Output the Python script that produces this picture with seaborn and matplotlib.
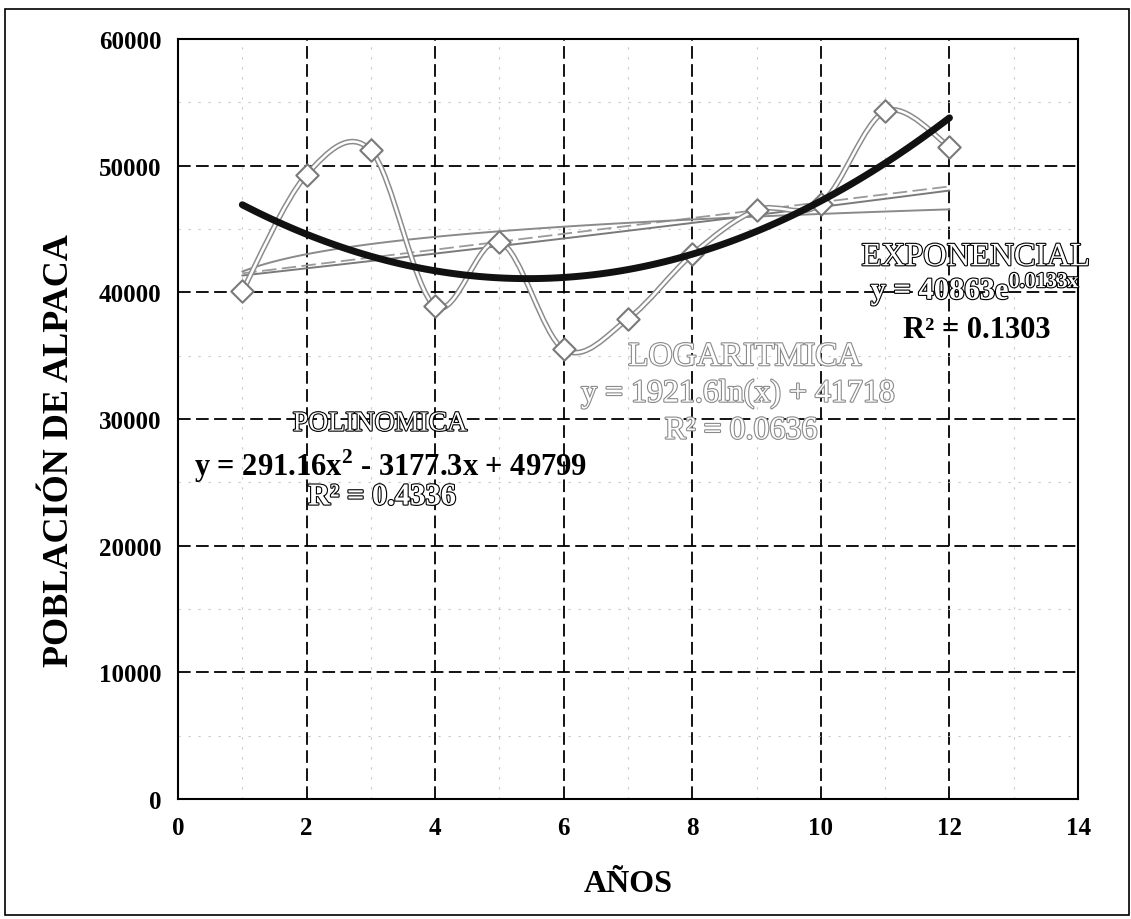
import numpy as np
import pandas as pd
import matplotlib
matplotlib.use('Agg')
import matplotlib.pyplot as plt
import matplotlib.patheffects as pe
from matplotlib.path import Path
from matplotlib.patches import PathPatch, Rectangle
import seaborn as sns

# data
years = [1, 2, 3, 4, 5, 6, 7, 8, 9, 10, 11, 12]
population = [40100, 49300, 51200, 38900, 44000, 35500, 37900, 43000, 46500, 47000, 54300, 51500]

x_ticks = [0, 2, 4, 6, 8, 10, 12, 14]
y_ticks = [0, 10000, 20000, 30000, 40000, 50000, 60000]

poly_label = ['POLINOMICA', 'y = 291.16x$^{2}$ - 3177.3x + 49799', 'R² = 0.4336']
log_label = ['LOGARITMICA', 'y = 1921.6ln(x) + 41718', 'R² = 0.0636']
exp_label = ['EXPONENCIAL', 'y = 40863e$^{\\mathbf{0.0133x}}$', 'R² = 0.1303']

df = pd.DataFrame({'year': years, 'pop': population})

sns.set_theme(style="white")
plt.rcParams['font.family'] = ['Liberation Serif', 'DejaVu Serif']
plt.rcParams['mathtext.fontset'] = 'custom'
plt.rcParams['mathtext.rm'] = 'Liberation Serif:bold'
plt.rcParams['mathtext.bf'] = 'Liberation Serif:bold'
plt.rcParams['text.color'] = 'black'
plt.rcParams['axes.labelcolor'] = 'black'

fig = plt.figure(figsize=(11.31, 9.2), dpi=100)
ax = fig.add_axes([0.1574, 0.1304, 0.7958, 0.8261])

# grid
ax.set_xlim(0, 14)
ax.set_ylim(0, 60000)
ax.set_xticks(x_ticks)
ax.set_yticks(y_ticks)
ax.grid(True, which='major', color='black', linestyle=(0, (7, 3)), linewidth=1.3)
ax.set_xticks(np.arange(0, 14.1, 1), minor=True)
ax.set_yticks(np.arange(0, 60001, 5000), minor=True)
ax.grid(True, which='minor', color='#c8c8c8', linestyle=(0, (2, 7)), linewidth=0.8)
ax.tick_params(which='minor', length=0)
ax.set_axisbelow(True)


# smoothed data line (Excel style bezier through the points)
def smooth_path(xs, ys):
    pts = np.column_stack([xs, ys]).astype(float)
    n = len(pts)
    verts = [pts[0]]
    codes = [Path.MOVETO]
    for i in range(n - 1):
        p0 = pts[i - 1] if i > 0 else pts[i]
        p1 = pts[i]
        p2 = pts[i + 1]
        p3 = pts[i + 2] if i + 2 < n else pts[i + 1]
        verts += [p1 + (p2 - p0) / 6, p2 - (p3 - p1) / 6, p2]
        codes += [Path.CURVE4] * 3
    return Path(verts, codes)


path = smooth_path(df['year'], df['pop'])
ax.add_patch(PathPatch(path, fill=False, edgecolor='#8c8c8c', lw=4.0, zorder=3))
ax.add_patch(PathPatch(path, fill=False, edgecolor='white', lw=1.8, zorder=3))
sns.scatterplot(data=df, x='year', y='pop', marker='D', s=130, color='white',
                edgecolor='#7a7a7a', linewidth=1.5, zorder=4, ax=ax)

# trend lines
sns.regplot(data=df, x='year', y='pop', ci=None, scatter=False, ax=ax,
            line_kws=dict(color='#9a9a9a', lw=1.3, ls=(0, (8, 3)), zorder=2))
sns.regplot(data=df, x='year', y='pop', ci=None, scatter=False, logx=True, ax=ax,
            line_kws=dict(color='#8a8a8a', lw=1.4, zorder=2))
b, a = np.polyfit(df['year'], np.log(df['pop']), 1)
xs = np.linspace(1, 12, 100)
ax.plot(xs, np.exp(a) * np.exp(b * xs), color='#7a7a7a', lw=1.4, zorder=2)
sns.regplot(data=df, x='year', y='pop', ci=None, scatter=False, order=2, ax=ax,
            line_kws=dict(color='#111111', lw=5, zorder=5))

# trend line labels
hollow = [pe.withStroke(linewidth=1.6, foreground='black')]
hollow_gray = [pe.withStroke(linewidth=1.6, foreground='#8a8a8a')]

ax.text(3.14, 29600, poly_label[0], ha='center', va='center', fontsize=20,
        color='white', path_effects=hollow)
ax.text(3.30, 26370, poly_label[1], ha='center', va='center', fontsize=22,
        fontweight='bold', color='black')
ax.text(3.17, 23840, poly_label[2], ha='center', va='center', fontsize=22,
        fontweight='bold', color='white', path_effects=hollow)

ax.text(8.82, 34900, log_label[0], ha='center', va='center', fontsize=24,
        color='white', path_effects=hollow_gray)
ax.text(8.71, 31970, log_label[1], ha='center', va='center', fontsize=23,
        color='white', path_effects=hollow_gray)
ax.text(8.76, 29050, log_label[2], ha='center', va='center', fontsize=23,
        color='white', path_effects=hollow_gray)

ax.text(12.41, 42790, exp_label[0], ha='center', va='center', fontsize=23.5,
        color='white', path_effects=hollow)
ax.text(12.40, 40260, exp_label[1], ha='center', va='center', fontsize=22,
        fontweight='bold', color='white', path_effects=hollow)
ax.text(12.43, 37100, exp_label[2], ha='center', va='center', fontsize=22,
        fontweight='bold', color='black')

# axes
for s in ax.spines.values():
    s.set_color('black')
    s.set_linewidth(1.5)
ax.tick_params(which='major', direction='out', length=6, width=1.2, colors='black',
               labelsize=18, pad=6)
for lab in ax.get_xticklabels() + ax.get_yticklabels():
    lab.set_fontweight('bold')
ax.set_xlabel('AÑOS', fontsize=23, fontweight='bold', labelpad=22)
ax.set_ylabel('POBLACIÓN DE ALPACA', fontsize=26, fontweight='bold')
ax.yaxis.set_label_coords(-0.113, 0.46)

# outer chart frame
fig.patches.append(Rectangle((0.004, 0.004), 0.994, 0.985, transform=fig.transFigure,
                             fill=False, edgecolor='black', lw=1.2))

fig.savefig('out.png', dpi=100, facecolor='white')
